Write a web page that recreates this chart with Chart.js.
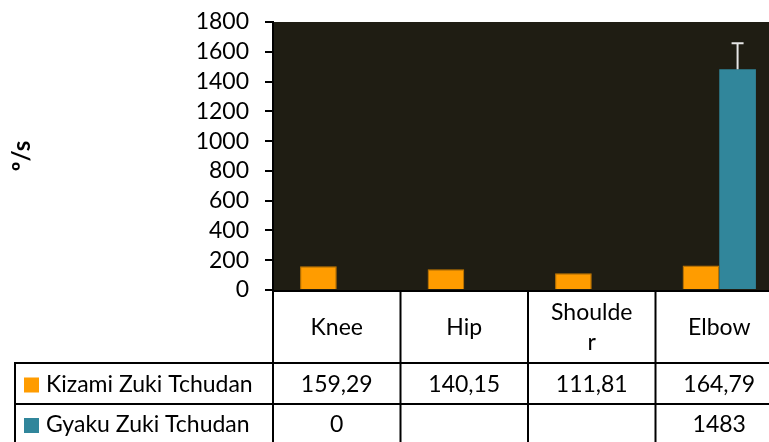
<!DOCTYPE html>
<html>
<head>
<meta charset="utf-8">
<script src="https://cdn.jsdelivr.net/npm/chart.js@4/dist/chart.umd.min.js"></script>
<style>
  body { margin: 0; background: #fff; overflow: hidden; }
  #wrap { width: 784px; height: 442px; }
</style>
</head>
<body>
<div id="wrap"><canvas id="chart" width="784" height="442"></canvas></div>
<script>
// Daten
const categories = ['Knee', 'Hip', 'Shoulder', 'Elbow'];
const headerLines = [['Knee'], ['Hip'], ['Shoulde', 'r'], ['Elbow']];
const kizamiValues = [159.29, 140.15, 111.81, 164.79];
const kizamiLabels = ['159,29', '140,15', '111,81', '164,79'];
const gyakuValues = [0, null, null, 1483];
const gyakuLabels = ['0', '', '', '1483'];
const gyakuErrors = [null, null, null, 174];
const yTicks = [0, 200, 400, 600, 800, 1000, 1200, 1400, 1600, 1800];

const FONT = 'Lato, "Open Sans", sans-serif';
const ORANGE = '#ff9c00';
const TEAL = '#31869b';

// Hintergrund der Zeichenfläche
const plotBackground = {
    id: 'plotBackground',
    beforeDraw(chart) {
        const { ctx, chartArea: a } = chart;
        ctx.save();
        ctx.fillStyle = '#1f1d13';
        ctx.fillRect(a.left, a.top, a.right - a.left, a.bottom - a.top);
        ctx.restore();
    }
};

// Fehlerbalken (nur nach oben)
const errorBars = {
    id: 'errorBars',
    afterDatasetsDraw(chart) {
        const { ctx } = chart;
        const y = chart.scales.y;
        const meta = chart.getDatasetMeta(1);
        ctx.save();
        ctx.strokeStyle = '#e6e6e6';
        ctx.lineWidth = 2;
        gyakuErrors.forEach((err, i) => {
            if (err == null || gyakuValues[i] == null) return;
            const bar = meta.data[i];
            const y0 = y.getPixelForValue(gyakuValues[i]);
            const y1 = y.getPixelForValue(gyakuValues[i] + err);
            ctx.beginPath();
            ctx.moveTo(bar.x, y0);
            ctx.lineTo(bar.x, y1);
            ctx.moveTo(bar.x - 6, y1);
            ctx.lineTo(bar.x + 6, y1);
            ctx.stroke();
        });
        ctx.restore();
    }
};

// Datentabelle unter dem Diagramm
const dataTable = {
    id: 'dataTable',
    afterDraw(chart) {
        const { ctx, chartArea: a } = chart;
        const n = categories.length;
        const w = (a.right - a.left) / n;
        const top = a.bottom;
        const headBottom = top + 73;
        const row1Bottom = headBottom + 41;
        const bottom = chart.height + 5;
        const legendLeft = 15;

        ctx.save();
        ctx.strokeStyle = '#000';
        ctx.lineWidth = 2;
        ctx.beginPath();
        // x-Achse
        ctx.moveTo(a.left - 1, top + 1);
        ctx.lineTo(a.right, top + 1);
        // senkrechte Linien
        for (let i = 0; i <= n; i++) {
            const x = a.left + i * w;
            ctx.moveTo(x, top);
            ctx.lineTo(x, bottom);
        }
        ctx.moveTo(legendLeft, headBottom);
        ctx.lineTo(legendLeft, bottom);
        // waagrechte Linien
        ctx.moveTo(legendLeft - 1, headBottom);
        ctx.lineTo(a.right, headBottom);
        ctx.moveTo(legendLeft - 1, row1Bottom);
        ctx.lineTo(a.right, row1Bottom);
        ctx.stroke();

        ctx.fillStyle = '#000';
        ctx.font = '23px ' + FONT;
        ctx.textAlign = 'center';
        ctx.textBaseline = 'middle';
        const headMid = (top + headBottom) / 2 + 1;
        headerLines.forEach((lines, i) => {
            const cx = a.left + (i + 0.5) * w;
            const lh = 30;
            lines.forEach((t, j) => {
                ctx.fillText(t, cx, headMid + (j - (lines.length - 1) / 2) * lh);
            });
        });
        const r1 = (headBottom + row1Bottom) / 2 + 1;
        const r2 = row1Bottom + 21;
        kizamiLabels.forEach((t, i) => ctx.fillText(t, a.left + (i + 0.5) * w, r1));
        gyakuLabels.forEach((t, i) => ctx.fillText(t, a.left + (i + 0.5) * w, r2));

        // Legendenspalte
        ctx.textAlign = 'left';
        const names = chart.data.datasets.map(d => d.label);
        const colors = [ORANGE, TEAL];
        [r1, r2].forEach((ry, k) => {
            ctx.fillStyle = colors[k];
            ctx.fillRect(24, ry - 7, 15, 15);
            ctx.fillStyle = '#000';
            ctx.fillText(names[k], 46, ry);
        });
        ctx.restore();
    }
};

new Chart(document.getElementById('chart'), {
    type: 'bar',
    data: {
        labels: categories,
        datasets: [
            {
                label: 'Kizami Zuki Tchudan',
                data: kizamiValues,
                backgroundColor: ORANGE,
                borderColor: '#c77a00',
                borderWidth: 1
            },
            {
                label: 'Gyaku Zuki Tchudan',
                data: gyakuValues,
                backgroundColor: TEAL,
                borderWidth: 0
            }
        ]
    },
    options: {
        responsive: false,
        animation: false,
        layout: { padding: { top: 22, bottom: 152, right: 1, left: 0 } },
        datasets: {
            bar: { barPercentage: 1, categoryPercentage: 0.575 }
        },
        plugins: {
            legend: { display: false },
            tooltip: { enabled: false }
        },
        scales: {
            x: { display: false },
            y: {
                min: 0,
                max: 1800,
                afterFit(scale) {
                    scale.width = 273;
                    scale.paddingTop = 0;
                    scale.paddingBottom = 0;
                },
                afterBuildTicks(scale) { scale.ticks = yTicks.map(v => ({ value: v })); },
                ticks: {
                    autoSkip: false,
                    color: '#000',
                    font: { family: FONT, size: 23 },
                    padding: 16,
                    callback: v => String(v)
                },
                grid: {
                    drawOnChartArea: false,
                    drawTicks: true,
                    tickLength: 8,
                    color: '#000',
                    lineWidth: 2
                },
                border: { color: '#000', width: 2 },
                title: {
                    display: true,
                    text: 'º/s',
                    color: '#000',
                    font: { family: FONT, size: 24, weight: 'bold' },
                    padding: { top: 8, bottom: 0 }
                }
            }
        }
    },
    plugins: [plotBackground, errorBars, dataTable]
});
</script>
</body>
</html>
